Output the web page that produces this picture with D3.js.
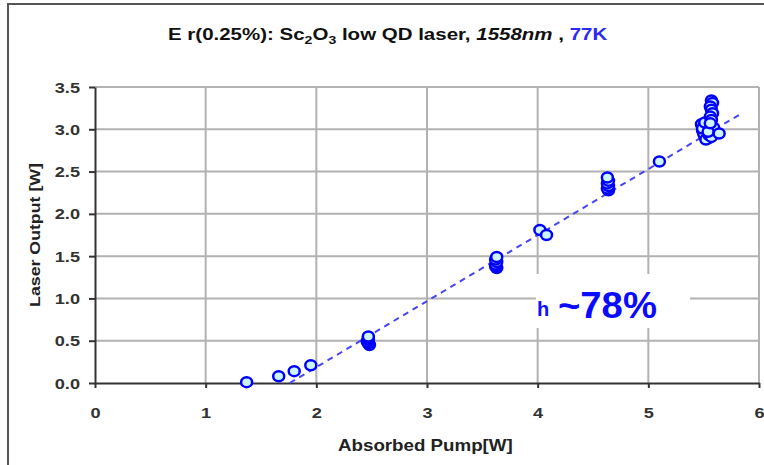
<!DOCTYPE html>
<html>
<head>
<meta charset="utf-8">
<script src="https://cdn.jsdelivr.net/npm/d3@7"></script>
<style>
  body { margin: 0; background: #fff; }
  svg { display: block; }
  text { font-family: "Liberation Sans", Arial, sans-serif; }
</style>
</head>
<body>
<svg id="chart" width="764" height="465"></svg>
<script>
// measured points (absorbed pump W, laser output W), light-filled ones last in each group
var pumpW   = [1.37, 1.66, 1.80, 1.95,
               2.48, 2.47, 2.46, 2.47, 2.47, 2.47,
               3.63, 3.62, 3.62, 3.63, 3.62, 3.63,
               4.02, 4.08,
               4.64, 4.63, 4.64, 4.63, 4.64, 4.63,
               5.10,
               5.48, 5.50, 5.52, 5.49, 5.53, 5.51, 5.55, 5.57, 5.56, 5.54, 5.58, 5.50, 5.53, 5.59,
               5.52, 5.55, 5.49, 5.57, 5.54, 5.51,
               5.57, 5.58, 5.56, 5.57, 5.58, 5.56, 5.57, 5.56,
               5.64];
var outputW = [0.01, 0.08, 0.14, 0.21,
               0.45, 0.47, 0.49, 0.51, 0.53, 0.55,
               1.36, 1.38, 1.40, 1.43, 1.46, 1.49,
               1.81, 1.75,
               2.28, 2.30, 2.33, 2.36, 2.39, 2.43,
               2.62,
               3.06, 3.03, 3.05, 2.99, 2.96, 2.92, 2.90, 2.94, 3.00, 3.04, 2.98, 2.95, 2.89, 3.02,
               2.88, 2.93, 3.01, 2.91, 2.97, 3.08,
               3.34, 3.31, 3.27, 3.23, 3.19, 3.15, 3.11, 3.07,
               2.95];
// dashed slope-efficiency line end points
var fitPump   = [1.76, 5.82];
var fitOutput = [0.0, 3.17];
var xTicks = [0, 1, 2, 3, 4, 5, 6];
var yTicks = [0, 0.5, 1.0, 1.5, 2.0, 2.5, 3.0, 3.5];

var svg = d3.select("#chart");
var x = d3.scaleLinear().domain([0, 6]).range([95, 759]);
var y = d3.scaleLinear().domain([0, 3.5]).range([383, 87]);

// squeeze/stretch a text horizontally so it spans a given width
function fitWidth (sel, left, width) {
  var w = sel.node().getBBox().width;
  sel.attr("transform", `translate(${left},0) scale(${width / w},1)`);
}

// outer frame
svg.append("rect")
  .attr("x", 8).attr("y", 4).attr("width", 800).attr("height", 500)
  .attr("fill", "none").attr("stroke", "#555").attr("stroke-width", 2);

// title
var title = svg.append("text").attr("x", 0).attr("y", 40)
  .attr("font-size", 16).attr("font-weight", "bold").attr("fill", "#111");
title.append("tspan").text("E r(0.25%): Sc");
title.append("tspan").attr("font-size", 11).attr("dy", 4).text("2");
title.append("tspan").attr("dy", -4).text("O");
title.append("tspan").attr("font-size", 11).attr("dy", 4).text("3");
title.append("tspan").attr("dy", -4).text(" low QD  laser, ");
title.append("tspan").attr("font-style", "italic").text("1558nm");
title.append("tspan").text(" , ");
title.append("tspan").attr("fill", "#2a2af0").text("77K");
fitWidth(title, 168, 440);

// grid
svg.append("g").selectAll("line").data(xTicks.slice(1)).join("line")
  .attr("x1", d => x(d)).attr("x2", d => x(d))
  .attr("y1", y(0)).attr("y2", y(3.5))
  .attr("stroke", "#b2b2b2").attr("stroke-width", 2);
svg.append("g").selectAll("line").data(yTicks.slice(1)).join("line")
  .attr("x1", x(0)).attr("x2", x(6))
  .attr("y1", d => y(d)).attr("y2", d => y(d))
  .attr("stroke", "#b2b2b2").attr("stroke-width", 2);

// white box behind the efficiency note
svg.append("rect")
  .attr("x", 536).attr("y", 274).attr("width", 154).attr("height", 54)
  .attr("fill", "#fff");

// axes
var gx = svg.append("g").attr("transform", `translate(0,${y(0)})`)
  .call(d3.axisBottom(x).tickValues(xTicks).tickSize(5).tickSizeOuter(0).tickFormat(d3.format("d")));
var gy = svg.append("g").attr("transform", `translate(${x(0)},0)`)
  .call(d3.axisLeft(y).tickValues(yTicks).tickSize(6).tickSizeOuter(0).tickFormat(d3.format(".1f")));
[gx, gy].forEach(g => {
  g.select(".domain").attr("stroke", "#333").attr("stroke-width", 2);
  g.selectAll(".tick line").attr("stroke", "#333").attr("stroke-width", 2);
  g.selectAll(".tick text")
    .attr("font-family", "Liberation Sans, Arial, sans-serif")
    .attr("font-size", 14).attr("font-weight", "bold").attr("fill", "#333");
});
gx.selectAll(".tick text").attr("y", 0).attr("dy", null)
  .attr("text-anchor", "middle").attr("transform", "translate(0,35) scale(1.3,1)");
gy.selectAll(".tick text").attr("x", 0).attr("dy", null)
  .attr("text-anchor", "end").attr("transform", "translate(-15,5) scale(1.3,1)");

// axis titles
var xt = svg.append("text").attr("x", 0).attr("y", 451)
  .attr("font-size", 16).attr("font-weight", "bold").attr("fill", "#222")
  .text("Absorbed Pump[W]");
fitWidth(xt, 338, 175);

var yt = svg.append("text").attr("x", 0).attr("y", 0)
  .attr("text-anchor", "middle")
  .attr("font-size", 15).attr("font-weight", "bold").attr("fill", "#222")
  .text("Laser Output [W]");
var ytw = yt.node().getBBox().width;
yt.attr("transform", `translate(40,235) rotate(-90) scale(${144 / ytw},1)`);

// dashed fit line
var line = d3.line().x(d => x(d[0])).y(d => y(d[1]));
svg.append("path")
  .datum(fitPump.map((p, i) => [p, fitOutput[i]]))
  .attr("d", line)
  .attr("fill", "none").attr("stroke", "#4646f2").attr("stroke-width", 2)
  .attr("stroke-dasharray", "6,5");

// points
svg.append("g").selectAll("ellipse").data(pumpW).join("ellipse")
  .attr("cx", (d, i) => x(d)).attr("cy", (d, i) => y(outputW[i]))
  .attr("rx", 5.5).attr("ry", 5)
  .attr("fill", "#cdf5ff").attr("stroke", "#0000ff").attr("stroke-width", 2.5);

// efficiency note
svg.append("text").attr("x", 537).attr("y", 316)
  .attr("font-family", "DejaVu Serif, Liberation Serif, serif")
  .attr("font-size", 20).attr("font-weight", "bold").attr("fill", "#1010ff")
  .text("h");
var eff = svg.append("text").attr("x", 0).attr("y", 318)
  .attr("font-size", 37).attr("font-weight", "bold").attr("fill", "#0a0aff")
  .text("~78%");
fitWidth(eff, 558, 99);
</script>
</body>
</html>
